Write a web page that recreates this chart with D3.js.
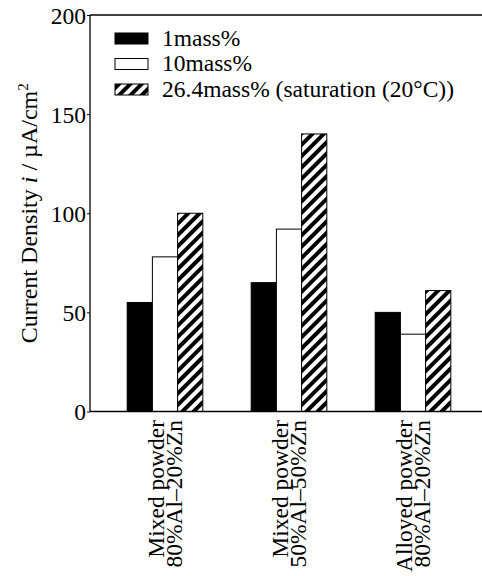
<!DOCTYPE html>
<html>
<head>
<meta charset="utf-8">
<script src="https://cdn.jsdelivr.net/npm/d3@7"></script>
<style>
  body { margin: 0; background: #fff; }
  svg text { font-family: "Liberation Serif", "Times New Roman", serif !important; }
</style>
</head>
<body>
<svg width="482" height="576"></svg>
<script>
const categories = [
  ["Mixed powder", "80%Al\u201320%Zn"],
  ["Mixed powder", "50%Al\u201350%Zn"],
  ["Alloyed powder", "80%Al\u201320%Zn"]
];
const seriesNames = ["1mass%", "10mass%", "26.4mass% (saturation (20\u00B0C))"];
const mass1 = [55, 65, 50];
const mass10 = [78, 92, 39];
const mass264 = [100, 140, 61];
const yTicks = [0, 50, 100, 150, 200];

const svg = d3.select("svg");
const plotLeft = 90, plotTop = 15, plotBottom = 411.5, plotRight = 482;

// hatch pattern
const defs = svg.append("defs");
defs.append("pattern")
    .attr("id", "hatch")
    .attr("patternUnits", "userSpaceOnUse")
    .attr("width", 8)
    .attr("height", 8)
    .attr("patternTransform", "rotate(45)")
  .call(p => {
    p.append("rect").attr("width", 8).attr("height", 8).attr("fill", "#fff");
    p.append("rect").attr("width", 4).attr("height", 8).attr("fill", "#000");
  });

const fills = ["#000", "#fff", "url(#hatch)"];
const series = [mass1, mass10, mass264];

const x = d3.scaleBand()
    .domain(d3.range(categories.length))
    .range([103, 475])
    .paddingInner(0.39)
    .paddingOuter(0.195);

const xs = d3.scaleBand()
    .domain(d3.range(series.length))
    .range([0, x.bandwidth()]);

const y = d3.scaleLinear()
    .domain([0, 200])
    .range([plotBottom, plotTop]);

// bars
const groups = svg.selectAll("g.grp")
    .data(categories.map((c, i) => i))
    .enter()
    .append("g")
    .attr("class", "grp")
    .attr("transform", i => `translate(${x(i)},0)`);

groups.selectAll("rect")
    .data(i => series.map((s, k) => ({k: k, v: s[i]})))
    .enter()
    .append("rect")
    .attr("x", d => xs(d.k))
    .attr("y", d => y(d.v))
    .attr("width", xs.bandwidth())
    .attr("height", d => y(0) - y(d.v))
    .attr("fill", d => fills[d.k])
    .attr("stroke", "#000")
    .attr("stroke-width", 1);

// axis lines
svg.append("line").attr("x1", plotLeft).attr("x2", plotLeft).attr("y1", plotTop).attr("y2", plotBottom)
    .attr("stroke", "#000").attr("stroke-width", 1.3);
svg.append("line").attr("x1", plotLeft).attr("x2", plotRight).attr("y1", plotTop).attr("y2", plotTop)
    .attr("stroke", "#000").attr("stroke-width", 1.3);
svg.append("line").attr("x1", plotLeft).attr("x2", plotRight).attr("y1", plotBottom).attr("y2", plotBottom)
    .attr("stroke", "#000").attr("stroke-width", 1.3);

// y axis
const yAxis = d3.axisLeft(y).tickValues(yTicks).tickSize(3).tickPadding(1);
const ya = svg.append("g")
    .attr("transform", `translate(${plotLeft},0)`)
    .call(yAxis)
    .attr("font-family", "Liberation Serif");
ya.select(".domain").remove();
ya.selectAll("line").attr("stroke", "#000");
ya.selectAll("text")
    .style("font-family", "'Liberation Serif', serif")
    .attr("font-size", "23.5px")
    .attr("fill", "#000")
    .attr("dy", "0.35em");

// y title
const yt = svg.append("text")
    .attr("transform", `translate(37,${(plotTop + plotBottom) / 2}) rotate(-90)`)
    .attr("text-anchor", "middle")
    .attr("font-size", "24px");
yt.append("tspan").text("Current Density ");
yt.append("tspan").attr("font-style", "italic").text("i");
yt.append("tspan").text(" / \u00B5A/cm");
yt.append("tspan").attr("font-size", "15px").attr("dy", "-9").text("2");

// category labels
categories.forEach((c, i) => {
  const cx = x(i) + x.bandwidth() / 2;
  const t = svg.append("text")
      .attr("transform", `translate(${cx},420) rotate(-90)`)
      .attr("text-anchor", "end")
      .attr("font-size", "23.5px");
  t.append("tspan").attr("x", 0).attr("y", -1).text(c[0]);
  t.append("tspan").attr("x", 0).attr("y", 17).text(c[1]);
});

// legend
const legend = svg.selectAll("g.leg")
    .data(seriesNames)
    .enter()
    .append("g")
    .attr("class", "leg")
    .attr("transform", (d, i) => `translate(115,${45.5 + i * 25.5})`);

legend.append("rect")
    .attr("x", 0)
    .attr("y", -12.5)
    .attr("width", 33)
    .attr("height", 11)
    .attr("fill", (d, i) => fills[i])
    .attr("stroke", "#000")
    .attr("stroke-width", 1);

legend.append("text")
    .attr("x", 47)
    .attr("y", 0)
    .attr("font-size", "23.5px")
    .text(d => d);
</script>
</body>
</html>
